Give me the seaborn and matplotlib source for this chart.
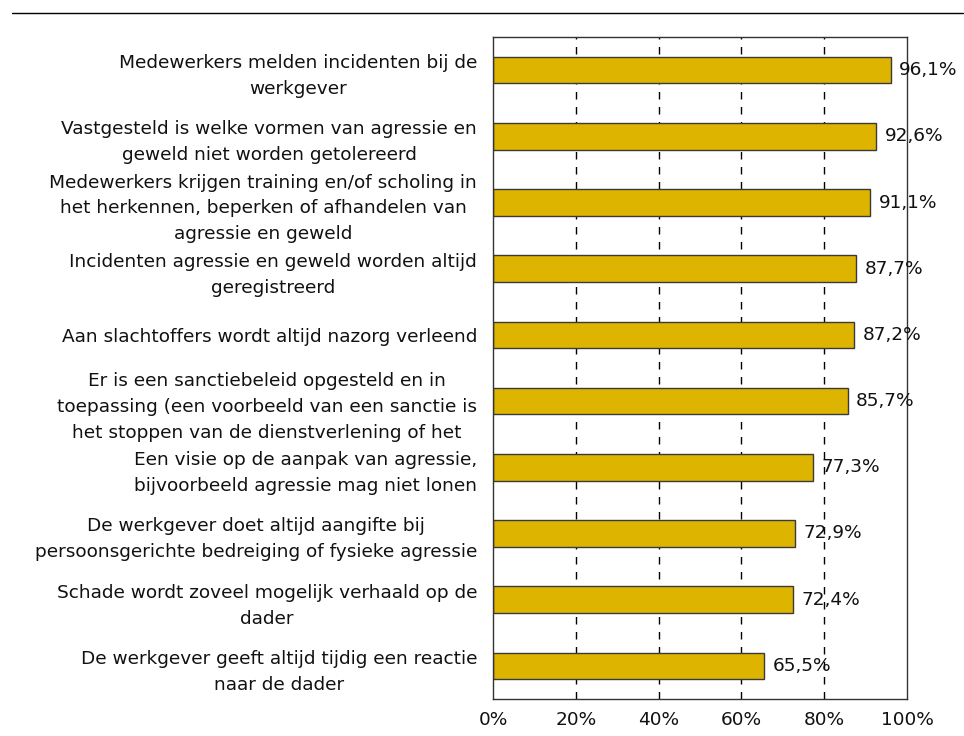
import matplotlib
matplotlib.use("Agg")
import matplotlib.pyplot as plt
from matplotlib.lines import Line2D
import pandas as pd
import seaborn as sns

# Statements (already wrapped as in the original chart)
labels = [
    "Medewerkers melden incidenten bij de\nwerkgever",
    "Vastgesteld is welke vormen van agressie en\ngeweld niet worden getolereerd",
    "Medewerkers krijgen training en/of scholing in\nhet herkennen, beperken of afhandelen van\nagressie en geweld",
    "Incidenten agressie en geweld worden altijd\ngeregistreerd",
    "Aan slachtoffers wordt altijd nazorg verleend",
    "Er is een sanctiebeleid opgesteld en in\ntoepassing (een voorbeeld van een sanctie is\nhet stoppen van de dienstverlening of het",
    "Een visie op de aanpak van agressie,\nbijvoorbeeld agressie mag niet lonen",
    "De werkgever doet altijd aangifte bij\npersoonsgerichte bedreiging of fysieke agressie",
    "Schade wordt zoveel mogelijk verhaald op de\ndader",
    "De werkgever geeft altijd tijdig een reactie\nnaar de dader",
]
values = [96.1, 92.6, 91.1, 87.7, 87.2, 85.7, 77.3, 72.9, 72.4, 65.5]
x_ticks = [0, 20, 40, 60, 80, 100]

df = pd.DataFrame({"label": labels, "value": values})

sns.set_style("white")
plt.rcParams['font.family'] = ['DejaVu Sans']

FS = 13.3

fig = plt.figure(figsize=(9.64, 7.36), dpi=100)
ax = fig.add_axes([0.5114, 0.0503, 0.4295, 0.8994])

sns.barplot(data=df, x="value", y="label", orient="h", color="#DDB400",
            edgecolor="#3a3a3a", linewidth=1, width=0.4, saturation=1, ax=ax)

ax.set_xlim(0, 100)
ax.set_ylim(len(labels) - 0.5, -0.5)
ax.set_xticks(x_ticks)
ax.set_xticklabels([f"{t}%" for t in x_ticks], fontsize=FS, color="#111111")
ax.set_yticks(range(len(labels)))
ax.set_yticklabels(labels, fontsize=FS, multialignment="center",
                   linespacing=1.56, color="#111111")
ax.tick_params(axis="y", length=0, pad=11.5)
ax.tick_params(axis="x", length=0, pad=9)
ax.set_xlabel("")
ax.set_ylabel("")

# dashed vertical gridlines
for x in x_ticks[1:-1]:
    ax.axvline(x, color="black", linestyle=(0, (5.4, 5.4)), linewidth=1, zorder=0)

for spine in ax.spines.values():
    spine.set_color("#333333")
    spine.set_linewidth(1)

for i, v in enumerate(values):
    ax.annotate(f"{v:.1f}%".replace(".", ","), xy=(v, i), xytext=(6, 0),
                textcoords="offset points", va="center", ha="left",
                fontsize=FS, color="#111111")

fig.add_artist(Line2D([0.0124, 0.999], [0.9823, 0.9823], color="black", linewidth=1))

fig.savefig("out.png", dpi=100)
